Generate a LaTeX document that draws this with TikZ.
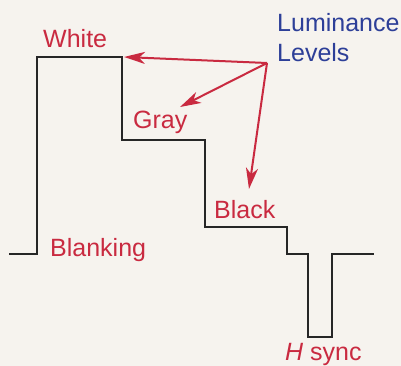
\documentclass[tikz,border=0pt]{standalone}
\usepackage{fontspec}
\setmainfont{Liberation Sans}
\usetikzlibrary{arrows.meta}
\definecolor{bgc}{HTML}{F6F3EE}
\definecolor{lred}{HTML}{C92A40}
\definecolor{lblue}{HTML}{2D3F98}
\begin{document}
\begin{tikzpicture}[x=1pt,y=-1pt,
  lbl/.style={anchor=base west,inner sep=0pt,font=\fontsize{25}{28}\selectfont},
  redlbl/.style={lbl,text=lred},
  bluelbl/.style={lbl,text=lblue},
  wave/.style={draw=black!85,line width=2.2pt,line join=miter},
  pointer/.style={draw=lred,line width=2pt,-{Stealth[length=21pt,width=12pt,inset=6pt]}}]
\fill[bgc] (0,0) rectangle (401,366);
\useasboundingbox (0,0) rectangle (401,366);
% waveform
\coordinate (s0) at (9,254);
\coordinate (s1) at (37,254);
\coordinate (w0) at (37,57);
\coordinate (w1) at (122,57);
\coordinate (g0) at (122,140);
\coordinate (g1) at (205,140);
\coordinate (b0) at (205,227);
\coordinate (b1) at (287,227);
\coordinate (k0) at (287,254);
\coordinate (k1) at (308,254);
\coordinate (h0) at (308,337);
\coordinate (h1) at (332,337);
\coordinate (e0) at (332,254);
\coordinate (e1) at (374,254);
\draw[wave] (s0) -- (s1) -- (w0) -- (w1) -- (g0) -- (g1) -- (b0) -- (b1) -- (k0) -- (k1) -- (h0) -- (h1) -- (e0) -- (e1);
% labels
\node[redlbl] (white) at (43,48) {White};
\node[redlbl] (gray) at (133,129) {Gray};
\node[redlbl] (black) at (214,218) {Black};
\node[redlbl] (blank) at (50,256) {Blanking};
\node[redlbl] (hsync) at (285,360) {\textit{H} sync};
\node[bluelbl] (lum) at (277,32) {Luminance};
\node[bluelbl] (lev) at (277,62) {Levels};
% pointers
\coordinate (src) at (267,63);
\coordinate (tw) at (124,57);
\coordinate (tg) at (180,107);
\coordinate (tb) at (249,189);
\draw[pointer] (src) -- (tw);
\draw[pointer] (src) -- (tg);
\draw[pointer] (src) -- (tb);
\end{tikzpicture}
\end{document}
